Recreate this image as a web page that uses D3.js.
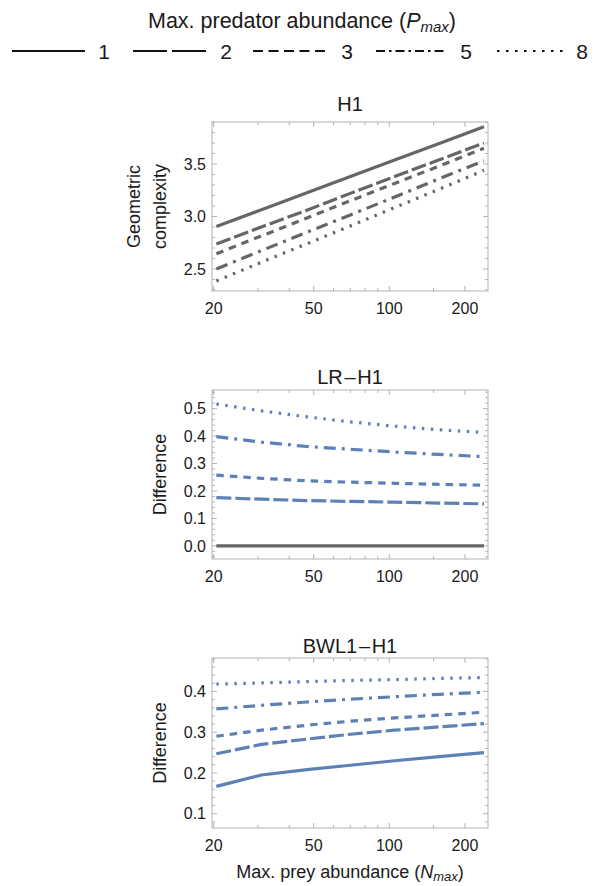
<!DOCTYPE html>
<html>
<head>
<meta charset="utf-8">
<script src="https://cdn.jsdelivr.net/npm/d3@7"></script>
<style>
body { margin: 0; background: #fff; }
text { font-family: "Liberation Sans", Arial, sans-serif; fill: #1a1a1a; }
</style>
</head>
<body>
<script>
// Nmax sample points (x), Pmax levels (one series per level)
var nmax = [20.5, 31, 47, 70, 105, 158, 238];
var pmax = ['1', '2', '3', '5', '8'];

// H1 geometric complexity, one row per Pmax
var h1Values = [
    [2.905, 3.065, 3.226, 3.381, 3.538, 3.696, 3.855],
    [2.737, 2.900, 3.060, 3.220, 3.380, 3.540, 3.700],
    [2.645, 2.815, 2.985, 3.150, 3.315, 3.480, 3.650],
    [2.500, 2.675, 2.850, 3.015, 3.185, 3.360, 3.530],
    [2.385, 2.565, 2.740, 2.910, 3.085, 3.260, 3.440]
];

// LR - H1 difference
var lrValues = [
    [0, 0, 0, 0, 0, 0, 0],
    [0.176, 0.170, 0.165, 0.162, 0.159, 0.156, 0.153],
    [0.258, 0.246, 0.237, 0.232, 0.228, 0.224, 0.221],
    [0.398, 0.378, 0.362, 0.352, 0.342, 0.333, 0.325],
    [0.517, 0.492, 0.470, 0.452, 0.436, 0.423, 0.413]
];

// BWL1 - H1 difference
var bwlValues = [
    [0.167, 0.195, 0.208, 0.219, 0.230, 0.240, 0.250],
    [0.247, 0.270, 0.283, 0.295, 0.305, 0.313, 0.321],
    [0.290, 0.305, 0.317, 0.327, 0.335, 0.342, 0.349],
    [0.357, 0.366, 0.374, 0.381, 0.387, 0.393, 0.398],
    [0.418, 0.421, 0.424, 0.427, 0.429, 0.432, 0.434]
];

var xMajor = [20, 50, 100, 200];
var xMinor = [30, 40, 60, 70, 80, 90, 150];

var gray = '#666666';
var blue = '#5e81b5';
var frameColor = '#b3b3b3';
var dashes = ['none', '15,4', '7.5,6', '12,6,3,6', '2.5,6.5'];
var legendDashes = ['none', '34,5', '10,5.5', '9,4,2.5,4', '2.5,6.5'];

var svg = d3.select('body').append('svg')
    .attr('width', 596)
    .attr('height', 886);

var left = 212, right = 488;
var x = d3.scaleLog().domain([19.7, 247]).range([left, right]);

var panels = [
    { title: 'H1', values: h1Values, top: 122, bottom: 291, domain: [2.29, 3.9],
      major: [2.5, 3.0, 3.5], minorStep: 0.1, fmt: '.1f', titleY: 111,
      colors: [gray, gray, gray, gray, gray], label: ['Geometric', 'complexity'] },
    { title: 'LR\u200a\u2013\u200aH1', values: lrValues, top: 390, bottom: 559, domain: [-0.048, 0.568],
      major: [0, 0.1, 0.2, 0.3, 0.4, 0.5], minorStep: 0.02, fmt: '.1f', titleY: 384,
      colors: [gray, blue, blue, blue, blue], label: ['Difference'] },
    { title: 'BWL1\u200a\u2013\u200aH1', values: bwlValues, top: 658, bottom: 828, domain: [0.065, 0.482],
      major: [0.1, 0.2, 0.3, 0.4], minorStep: 0.02, fmt: '.1f', titleY: 653,
      colors: [blue, blue, blue, blue, blue], label: ['Difference'] }
];

panels.forEach(drawPanel);
drawLegend();
drawXLabel();

function drawPanel(p) {
    var y = d3.scaleLinear().domain(p.domain).range([p.bottom, p.top]);
    var g = svg.append('g');

    // frame
    g.append('rect')
        .attr('x', left).attr('y', p.top)
        .attr('width', right - left).attr('height', p.bottom - p.top)
        .attr('fill', 'none')
        .attr('stroke', frameColor)
        .attr('stroke-width', 1);

    // x ticks, bottom and top, pointing inward
    var xt = xMajor.map(function(v) { return { v: v, len: 5 }; })
        .concat(xMinor.map(function(v) { return { v: v, len: 3 }; }));
    xt.forEach(function(t) {
        g.append('line')
            .attr('x1', x(t.v)).attr('x2', x(t.v))
            .attr('y1', p.bottom).attr('y2', p.bottom - t.len)
            .attr('stroke', frameColor);
        g.append('line')
            .attr('x1', x(t.v)).attr('x2', x(t.v))
            .attr('y1', p.top).attr('y2', p.top + t.len)
            .attr('stroke', frameColor);
    });
    g.selectAll('.xlab').data(xMajor).enter().append('text')
        .attr('x', function(d) { return x(d); })
        .attr('y', p.bottom + 23)
        .attr('text-anchor', 'middle')
        .attr('font-size', 16)
        .text(function(d) { return d; });

    // y ticks, left and right
    var yMinor = d3.range(Math.ceil(p.domain[0] / p.minorStep), Math.floor(p.domain[1] / p.minorStep) + 1)
        .map(function(i) { return +(i * p.minorStep).toFixed(3); });
    yMinor.forEach(function(v) {
        var isMajor = p.major.some(function(m) { return Math.abs(m - v) < 1e-6; });
        var len = isMajor ? 5 : 3;
        g.append('line')
            .attr('x1', left).attr('x2', left + len)
            .attr('y1', y(v)).attr('y2', y(v))
            .attr('stroke', frameColor);
        g.append('line')
            .attr('x1', right).attr('x2', right - len)
            .attr('y1', y(v)).attr('y2', y(v))
            .attr('stroke', frameColor);
    });
    g.selectAll('.ylab').data(p.major).enter().append('text')
        .attr('x', left - 6)
        .attr('y', function(d) { return y(d); })
        .attr('dy', '0.36em')
        .attr('text-anchor', 'end')
        .attr('font-size', 16)
        .text(function(d) { return d3.format(p.fmt)(d); });

    // series
    var line = d3.line()
        .x(function(d, i) { return x(nmax[i]); })
        .y(function(d) { return y(d); });
    p.values.forEach(function(vals, k) {
        g.append('path')
            .attr('d', line(vals))
            .attr('fill', 'none')
            .attr('stroke', p.colors[k])
            .attr('stroke-width', 3.2)
            .attr('stroke-dasharray', dashes[k]);
    });

    // title
    g.append('text')
        .attr('x', (left + right) / 2)
        .attr('y', p.titleY)
        .attr('text-anchor', 'middle')
        .attr('font-size', 20)
        .text(p.title);

    // y label
    var cy = (p.top + p.bottom) / 2;
    var xs = p.label.length === 2 ? [134, 160] : [160];
    p.label.forEach(function(s, i) {
        g.append('text')
            .attr('transform', 'translate(' + (xs[i] + 6) + ',' + cy + ') rotate(-90)')
            .attr('text-anchor', 'middle')
            .attr('font-size', 18)
            .text(s);
    });
}

function drawLegend() {
    var title = svg.append('text')
        .attr('x', 302).attr('y', 28)
        .attr('text-anchor', 'middle')
        .attr('font-size', 21.5);
    title.append('tspan').text('Max. predator abundance (');
    title.append('tspan').attr('font-style', 'italic').text('P');
    title.append('tspan').attr('font-style', 'italic').attr('font-size', 15).attr('dy', 4).text('max');
    title.append('tspan').attr('dy', -4).text(')');

    var items = [
        { x1: 12, x2: 85, tx: 104 },
        { x1: 133, x2: 207, tx: 226 },
        { x1: 253, x2: 325, tx: 347 },
        { x1: 376, x2: 447, tx: 466 },
        { x1: 497, x2: 564, tx: 582 }
    ];
    pmax.forEach(function(label, k) {
        svg.append('line')
            .attr('x1', items[k].x1).attr('x2', items[k].x2)
            .attr('y1', 51).attr('y2', 51)
            .attr('stroke', '#111')
            .attr('stroke-width', 2)
            .attr('stroke-dasharray', legendDashes[k]);
        svg.append('text')
            .attr('x', items[k].tx).attr('y', 58.5)
            .attr('text-anchor', 'middle')
            .attr('font-size', 21)
            .text(label);
    });
}

function drawXLabel() {
    var t = svg.append('text')
        .attr('x', 350).attr('y', 878)
        .attr('text-anchor', 'middle')
        .attr('font-size', 18);
    t.append('tspan').text('Max. prey abundance (');
    t.append('tspan').attr('font-style', 'italic').text('N');
    t.append('tspan').attr('font-style', 'italic').attr('font-size', 13).attr('dy', 3).text('max');
    t.append('tspan').attr('dy', -3).text(')');
}
</script>
</body>
</html>
